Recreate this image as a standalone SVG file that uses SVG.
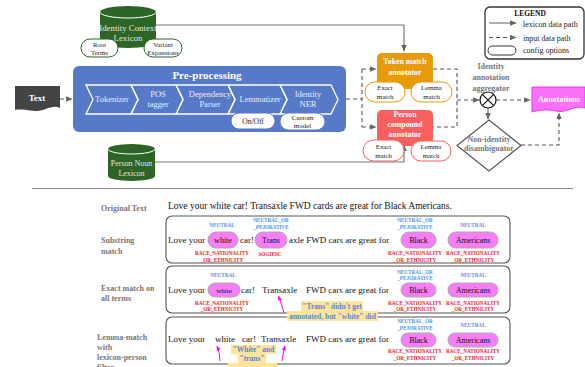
<svg xmlns="http://www.w3.org/2000/svg" width="585" height="367" viewBox="0 0 585 367">
<defs>
<marker id="ah" viewBox="0 0 10 10" refX="9" refY="5" markerWidth="6" markerHeight="6" orient="auto"><path d="M0,1 L10,5 L0,9 z" fill="#666"/></marker>
<marker id="mh" viewBox="0 0 10 10" refX="9" refY="5" markerWidth="5" markerHeight="5" orient="auto"><path d="M0,1 L10,5 L0,9 z" fill="#f0f"/></marker>
<style>
text{font-family:"Liberation Serif","Times New Roman",serif}
.w{fill:#fff}
.c{text-anchor:middle}
.b{font-weight:bold}
.sol{fill:none;stroke:#777;stroke-width:1.2}
.dash{fill:none;stroke:#555;stroke-width:1.1;stroke-dasharray:4,3}
.chev{fill:none;stroke:#fff;stroke-width:1.3}
.pill{fill:#fff;stroke-width:1}
.gl{font-size:8px;font-weight:bold;fill:#777}
.row{font-size:9px;fill:#111}
.orig{font-size:9.5px;fill:#111}
.blu{font-size:5.2px;font-weight:bold;fill:#5b8fe8;text-anchor:middle}
.red{font-size:5.2px;font-weight:bold;fill:#f21d1d;text-anchor:middle}
.mp{fill:#f77ef7;stroke:#aaa;stroke-width:1}
.box{fill:#fff;stroke:#555;stroke-width:1.1}
.call{font-size:7.5px;font-weight:bold;fill:#5a86d8;text-anchor:middle}
.hl{fill:#fde49a}
.mag{fill:none;stroke:#f0f;stroke-width:1}
</style>
</defs>

<!-- connectors -->
<g id="connectors">
<path class="sol" d="M156,25 H404 V51" marker-end="url(#ah)"/>
<path class="sol" d="M155,162 H404 V145" marker-end="url(#ah)"/>
<path class="dash" d="M60,99 H72" marker-end="url(#ah)"/>
<path class="dash" d="M346,99 H362"/>
<path class="dash" d="M362,69 V127"/>
<path class="dash" d="M362,69 H376" marker-end="url(#ah)"/>
<path class="dash" d="M362,127 H376" marker-end="url(#ah)"/>
<path class="dash" d="M433,69 H457 V127 H433"/>
<path class="dash" d="M457,100 H479" marker-end="url(#ah)"/>
<path class="dash" d="M496,100 H530" marker-end="url(#ah)"/>
<path class="sol" d="M488,108 V119" marker-end="url(#ah)"/>
<path class="dash" d="M521,145 H559 V113" marker-end="url(#ah)"/>
</g>

<!-- Identity Context Lexicon -->
<g id="identity-context-lexicon">
<path d="M100,12 A28,6 0 0 1 156,12 V42 A28,6 0 0 1 100,42 Z" fill="#2c6525"/>
<path d="M100,12 A28,6 0 0 0 156,12" fill="none" stroke="#fff" stroke-width="1"/>
<text class="c" x="128" y="31" font-size="8.8" fill="#e4e4e4">Identity Context</text>
<text class="c" x="128" y="41" font-size="8.8" fill="#e4e4e4">Lexicon</text>
<rect x="81" y="39" width="37" height="18" rx="9" class="pill" stroke="#2c6525"/>
<text class="c" x="99.5" y="47" font-size="6.8" fill="#222">Root</text>
<text class="c" x="99.5" y="55" font-size="6.8" fill="#222">Terms</text>
<rect x="144" y="39" width="38" height="18" rx="9" class="pill" stroke="#2c6525"/>
<text class="c" x="163" y="47" font-size="6.8" fill="#222">Variant</text>
<text class="c" x="163" y="55" font-size="6.8" fill="#222">Expansions</text>
</g>

<!-- Text input -->
<g id="text-input">
<path d="M15,86 H60 V108 C52,104 44,112 35,111 C26,110 20,109 15,110 Z" fill="#444"/>
<text class="c b w" x="37" y="101" font-size="9">Text</text>
</g>

<!-- Pre-processing -->
<g id="pre-processing">
<rect x="73" y="66" width="273" height="66" rx="6" fill="#5679c8"/>
<text class="c b w" x="207" y="79" font-size="11">Pre-processing</text>
<polygon class="chev" points="86,85 131,85 138,99.5 131,114 86,114 93,99.5"/>
<polygon class="chev" points="131,85 176,85 183,99.5 176,114 131,114 138,99.5"/>
<polygon class="chev" points="176,85 228,85 235,99.5 228,114 176,114 183,99.5"/>
<polygon class="chev" points="228,85 280,85 287,99.5 280,114 228,114 235,99.5"/>
<polygon class="chev" points="280,85 331,85 338,99.5 331,114 280,114 287,99.5"/>
<text class="c" x="112" y="102" font-size="8.5" fill="#e8ecf8">Tokenizer</text>
<text class="c" x="158" y="97" font-size="8.5" fill="#e8ecf8">POS</text>
<text class="c" x="158" y="107" font-size="8.5" fill="#e8ecf8">tagger</text>
<text class="c" x="210" y="97" font-size="8.5" fill="#e8ecf8">Dependency</text>
<text class="c" x="210" y="107" font-size="8.5" fill="#e8ecf8">Parser</text>
<text class="c" x="260" y="102" font-size="8.5" fill="#e8ecf8">Lemmatizer</text>
<text class="c" x="308" y="97" font-size="8.5" fill="#e8ecf8">Identity</text>
<text class="c" x="308" y="107" font-size="8.5" fill="#e8ecf8">NER</text>
<rect x="231" y="113" width="44" height="16" rx="8" class="pill" stroke="#5679c8"/>
<text class="c" x="253" y="124" font-size="7.5" fill="#222">On/Off</text>
<rect x="280" y="113" width="45" height="17" rx="8.5" class="pill" stroke="#5679c8"/>
<text class="c" x="302.5" y="120" font-size="7" fill="#222">Custom</text>
<text class="c" x="302.5" y="128" font-size="7" fill="#222">model</text>
</g>

<!-- Token match annotator -->
<g id="token-match-annotator">
<rect x="377" y="53" width="56" height="36" rx="5" fill="#e79b0a"/>
<text class="c b w" x="405" y="64" font-size="7.8">Token match</text>
<text class="c b w" x="405" y="75" font-size="7.8">annotator</text>
<rect x="365" y="82" width="40" height="20" rx="10" class="pill" stroke="#e79b0a"/>
<text class="c" x="385" y="90" font-size="6.8" fill="#222">Exact</text>
<text class="c" x="385" y="98.5" font-size="6.8" fill="#222">match</text>
<rect x="411" y="82" width="41" height="20" rx="10" class="pill" stroke="#e79b0a"/>
<text class="c" x="431.5" y="90" font-size="6.8" fill="#222">Lemma</text>
<text class="c" x="431.5" y="98.5" font-size="6.8" fill="#222">match</text>
</g>

<!-- Person compound annotator -->
<g id="person-compound-annotator">
<rect x="377" y="110" width="56" height="36" rx="5" fill="#f7605f"/>
<text class="c b w" x="405" y="117" font-size="7.8">Person</text>
<text class="c b w" x="405" y="127" font-size="7.8">compound</text>
<text class="c b w" x="405" y="137" font-size="7.8">annotator</text>
<rect x="363" y="140" width="41" height="21" rx="10.5" class="pill" stroke="#f7605f"/>
<text class="c" x="383.5" y="149" font-size="6.8" fill="#222">Exact</text>
<text class="c" x="383.5" y="157.5" font-size="6.8" fill="#222">match</text>
<rect x="411" y="141" width="40" height="20" rx="10" class="pill" stroke="#f7605f"/>
<text class="c" x="431" y="149" font-size="6.8" fill="#222">Lemma</text>
<text class="c" x="431" y="157.5" font-size="6.8" fill="#222">match</text>
</g>

<!-- Person Noun Lexicon -->
<g id="person-noun-lexicon">
<path d="M108,149 A23.5,5 0 0 1 155,149 V176 A23.5,5 0 0 1 108,176 Z" fill="#2c6525"/>
<path d="M108,149 A23.5,5 0 0 0 155,149" fill="none" stroke="#fff" stroke-width="1"/>
<text class="c" x="131.5" y="166" font-size="8" fill="#e4e4e4">Person Noun</text>
<text class="c" x="131.5" y="176" font-size="8" fill="#e4e4e4">Lexicon</text>
</g>

<!-- Aggregator -->
<g id="identity-annotation-aggregator">
<text class="c gl" x="491" y="69">Identity</text>
<text class="c gl" x="491" y="80">annotation</text>
<text class="c gl" x="491" y="91">aggregator</text>
<circle cx="488" cy="100" r="8" fill="#fff" stroke="#111" stroke-width="1.2"/>
<path d="M482.3,94.3 L493.7,105.7 M493.7,94.3 L482.3,105.7" stroke="#111" stroke-width="1.2"/>
</g>

<!-- Annotations -->
<g id="annotations">
<path d="M532,87 H585 V108 C575,104 566,114 556,111 C547,109 539,110 532,112 Z" fill="#fb6ffb" stroke="#e040e0" stroke-width="1"/>
<text class="c b w" x="559" y="102" font-size="8">Annotations</text>
</g>

<!-- Non-identity disambiguator -->
<g id="non-identity-disambiguator">
<polygon points="489,120 521,145.5 489,171 457,145.5" fill="#fff" stroke="#555" stroke-width="1.2"/>
<text class="c gl" x="489" y="142" font-size="7">Non-identity</text>
<text class="c gl" x="489" y="151" font-size="7">disambiguator</text>
</g>

<!-- Legend -->
<g id="legend">
<rect x="485" y="7" width="99" height="52" rx="5" fill="#fff" stroke="#333" stroke-width="1.3"/>
<text class="c b" x="530" y="16" font-size="7.5" fill="#111">LEGEND</text>
<path class="sol" d="M489,23 H516" marker-end="url(#ah)"/>
<text x="523" y="26.5" font-size="8" fill="#222">lexicon data path</text>
<path class="dash" d="M489,37.5 H516" marker-end="url(#ah)"/>
<text x="523" y="41" font-size="8" fill="#222">input data path</text>
<rect x="488" y="46" width="28" height="9" rx="4.5" fill="#fff" stroke="#333" stroke-width="1"/>
<text x="523" y="53" font-size="8" fill="#222">config options</text>
</g>

<line x1="32" y1="188.5" x2="573" y2="188.5" stroke="#888" stroke-width="1.2"/>

<!-- Original text -->
<g id="original-text">
<text class="gl" x="101" y="211">Original Text</text>
<text class="orig" x="168" y="209">Love your white car! Transaxle FWD cards are great for Black Americans.</text>
</g>

<!-- Row 1 substring match -->
<g id="substring-match">
<rect class="box" x="166" y="216" width="344" height="47" rx="6"/>
<text class="gl" x="101" y="243">Substring</text>
<text class="gl" x="101" y="254">match</text>
<rect class="mp" x="208" y="232" width="30" height="16" rx="8"/>
<rect class="mp" x="255" y="232" width="32" height="16" rx="8"/>
<rect class="mp" x="401" y="232" width="35" height="16" rx="8"/>
<rect class="mp" x="448" y="232" width="50" height="16" rx="8"/>
<text class="row" x="168" y="243">Love your</text>
<text class="c" x="223" y="243" font-size="8" fill="#111">white</text>
<text class="row" x="240" y="243">car!</text>
<text class="c" x="271" y="243" font-size="8" fill="#111">Trans</text>
<text class="row" x="289" y="243">axle FWD cars are great for</text>
<text class="c" x="418.5" y="243" font-size="8" fill="#111">Black</text>
<text class="c" x="473" y="243" font-size="8" fill="#111">Americans</text>
<text class="blu" x="222" y="227">NEUTRAL</text>
<text class="blu" x="271" y="222">NEUTRAL_OR</text>
<text class="blu" x="271" y="229">_PEJORATIVE</text>
<text class="blu" x="415" y="222">NEUTRAL_OR</text>
<text class="blu" x="415" y="229">_PEJORATIVE</text>
<text class="blu" x="473" y="227">NEUTRAL</text>
<text class="red" x="222" y="255">RACE_NATIONALITY</text>
<text class="red" x="222" y="262">_OR_ETHNICITY</text>
<text class="red" x="270" y="256">SOGIESC</text>
<text class="red" x="415" y="255">RACE_NATIONALITY</text>
<text class="red" x="415" y="262">_OR_ETHNICITY</text>
<text class="red" x="473" y="255">RACE_NATIONALITY</text>
<text class="red" x="473" y="262">_OR_ETHNICITY</text>
</g>

<!-- Row 2 exact match -->
<g id="exact-match">
<rect class="box" x="166" y="266" width="344" height="47" rx="6"/>
<text class="gl" x="101" y="291">Exact match on</text>
<text class="gl" x="101" y="301">all terms</text>
<rect class="mp" x="208" y="283" width="32" height="14" rx="7"/>
<rect class="mp" x="401" y="283" width="35" height="14" rx="7"/>
<rect class="mp" x="448" y="283" width="50" height="14" rx="7"/>
<text class="row" x="168" y="293">Love your</text>
<text class="c" x="224" y="293" font-size="7" fill="#111">white</text>
<text class="row" x="241" y="293">car!</text>
<text class="row" x="262" y="293">Transaxle</text>
<text class="row" x="306" y="293">FWD cars are great for</text>
<text class="c" x="418.5" y="293" font-size="8" fill="#111">Black</text>
<text class="c" x="473" y="293" font-size="8" fill="#111">Americans</text>
<text class="blu" x="223" y="277">NEUTRAL</text>
<text class="blu" x="415" y="274">NEUTRAL_OR</text>
<text class="blu" x="415" y="280">_PEJORATIVE</text>
<text class="blu" x="473" y="277">NEUTRAL</text>
<text class="red" x="222" y="305">RACE_NATIONALITY</text>
<text class="red" x="222" y="311">_OR_ETHNICITY</text>
<text class="red" x="415" y="305">RACE_NATIONALITY</text>
<text class="red" x="415" y="311">_OR_ETHNICITY</text>
<text class="red" x="473" y="305">RACE_NATIONALITY</text>
<text class="red" x="473" y="311">_OR_ETHNICITY</text>
</g>

<!-- Row 3 lemma match -->
<g id="lemma-match">
<rect class="box" x="166" y="317" width="344" height="47" rx="6"/>
<text class="gl" x="97" y="340">Lemma-match</text>
<text class="gl" x="97" y="350">with</text>
<text class="gl" x="97" y="360">lexicon-person</text>
<text class="gl" x="97" y="370">filter</text>
<rect class="mp" x="401" y="333" width="35" height="14" rx="7"/>
<rect class="mp" x="448" y="333" width="50" height="14" rx="7"/>
<text class="row" x="168" y="342">Love your</text>
<text class="row" x="215" y="342">white</text>
<text class="row" x="242" y="342">car!</text>
<text class="row" x="261" y="342">Transaxle</text>
<text class="row" x="306" y="342">FWD cars are great for</text>
<text class="c" x="418.5" y="343" font-size="8" fill="#111">Black</text>
<text class="c" x="473" y="343" font-size="8" fill="#111">Americans</text>
<text class="blu" x="415" y="323">NEUTRAL_OR</text>
<text class="blu" x="415" y="330">_PEJORATIVE</text>
<text class="blu" x="473" y="327">NEUTRAL</text>
<text class="red" x="415" y="353">RACE_NATIONALITY</text>
<text class="red" x="415" y="360">_OR_ETHNICITY</text>
<text class="red" x="473" y="353">RACE_NATIONALITY</text>
<text class="red" x="473" y="360">_OR_ETHNICITY</text>
</g>

<!-- callouts -->
<g id="callout-exact">
<rect class="hl" x="301" y="301" width="62" height="10"/>
<rect class="hl" x="287" y="311" width="91" height="10"/>
<text class="call" x="332" y="308.5">"Trans" didn't get</text>
<text class="call" x="332.5" y="318.5">annotated, but "white" did</text>
<path class="mag" d="M284,313 Q282,305 278.5,296" marker-end="url(#mh)"/>
</g>
<g id="callout-lemma">
<rect class="hl" x="231" y="345" width="45" height="9"/>
<rect class="hl" x="238" y="354" width="28" height="9"/>
<rect class="hl" x="228" y="363" width="49" height="4"/>
<text class="call" x="253.5" y="352">"White" and</text>
<text class="call" x="252" y="361">"trans"</text>
<path class="mag" d="M220,361 Q220,353 217,346" marker-end="url(#mh)"/>
<path class="mag" d="M282,361 Q283,353 285,346" marker-end="url(#mh)"/>
</g>
</svg>
